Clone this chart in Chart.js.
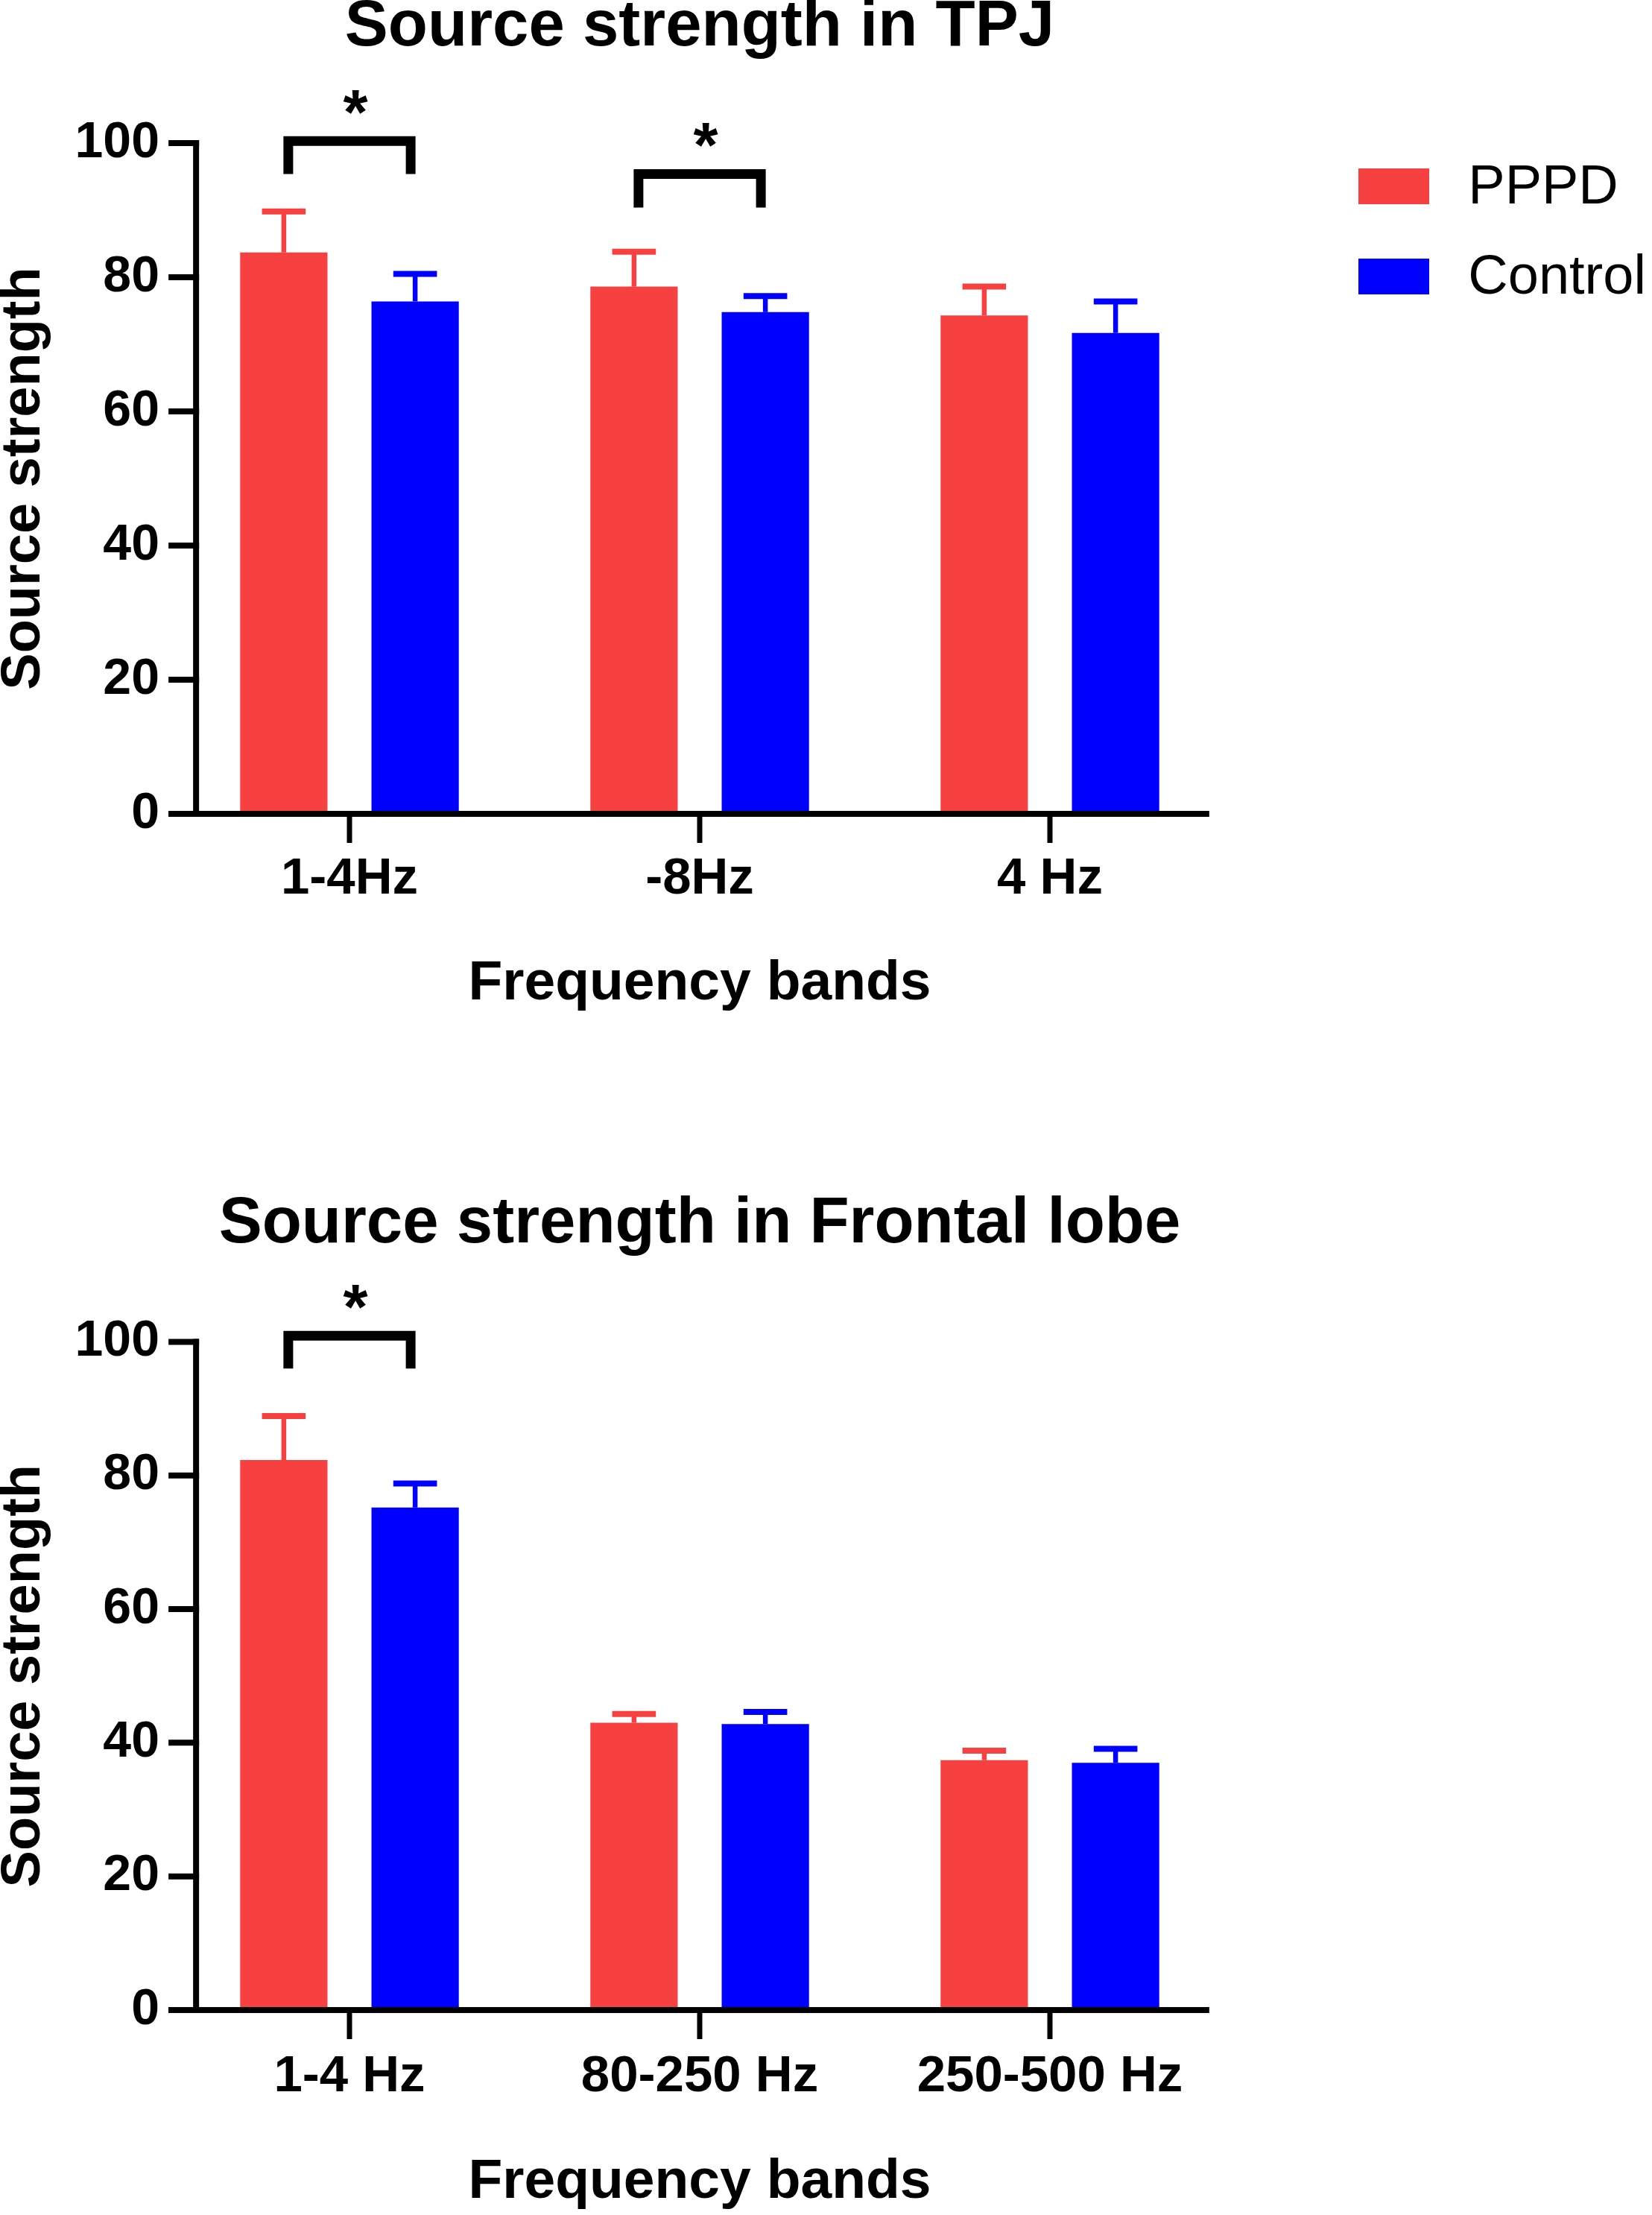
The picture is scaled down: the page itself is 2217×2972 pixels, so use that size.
<!DOCTYPE html>
<html>
<head>
<meta charset="utf-8">
<script src="https://cdn.jsdelivr.net/npm/chart.js@4.4.1/dist/chart.umd.min.js"></script>
<style>
  html, body { margin: 0; padding: 0; background: #ffffff; }
  #page { position: relative; width: 2217px; height: 2972px; overflow: hidden; background: #ffffff; }
  #page canvas { position: absolute; left: 0; }
  #c1 { top: 0; }
  #c2 { top: 1400px; }
</style>
</head>
<body>
<div id="page">
  <canvas id="c1" width="2217" height="1400" style="width:2217px;height:1400px"></canvas>
  <canvas id="c2" width="2217" height="1572" style="width:2217px;height:1572px"></canvas>
  <div id="legend"></div>
</div>
<script>
// ---------------- data ----------------
const seriesNames = ['PPPD', 'Control'];
const seriesColors = ['#F74141', '#0000FF'];
const yTickValues = [0, 20, 40, 60, 80, 100];

const tpjTitle = 'Source strength in TPJ';
const tpjCategories = ['1-4Hz', '-8Hz', '4 Hz'];
const tpjPPPD = [83.7, 78.6, 74.3];
const tpjPPPDErr = [6.1, 5.2, 4.3];
const tpjControl = [76.4, 74.8, 71.7];
const tpjControlErr = [4.1, 2.4, 4.7];
const tpjSigGroups = [0, 1];
const tpjSigTop = [100.3, 95.4];
const tpjSigLeg = [95.4, 90.4];

const frontalTitle = 'Source strength in Frontal lobe';
const frontalCategories = ['1-4 Hz', '80-250 Hz', '250-500 Hz'];
const frontalPPPD = [82.3, 43.0, 37.4];
const frontalPPPDErr = [6.6, 1.3, 1.4];
const frontalControl = [75.2, 42.8, 37.0];
const frontalControlErr = [3.6, 1.8, 2.1];
const frontalSigGroups = [0];
const frontalSigTop = [100.9];
const frontalSigLeg = [96.0];

const xTitleText = 'Frequency bands';
const yTitleText = 'Source strength';

// ---------------- style ----------------
const FONT = "'Liberation Sans', Arial, Helvetica, sans-serif";
const Y_AXIS_POS = -0.438;   // y-axis line position in category-index units
const X_AXIS_END = 2.455;    // right end of x-axis line in category-index units

function decorPlugin(errs, sigGroups, sigTop, sigLeg) {
  return {
    id: 'prismDecor',
    afterDatasetsDraw(chart) {
      const ctx = chart.ctx;
      const x = chart.scales.x, y = chart.scales.y;
      ctx.save();
      ctx.lineCap = 'butt';
      // error bars
      chart.data.datasets.forEach((ds, di) => {
        const meta = chart.getDatasetMeta(di);
        ctx.strokeStyle = ds.backgroundColor;
        meta.data.forEach((bar, i) => {
          const topY = y.getPixelForValue(ds.data[i] + errs[di][i]);
          ctx.lineWidth = 6.5;
          ctx.beginPath(); ctx.moveTo(bar.x, bar.y); ctx.lineTo(bar.x, topY); ctx.stroke();
          ctx.lineWidth = 8;
          const hw = bar.width / 4;
          ctx.beginPath(); ctx.moveTo(bar.x - hw, topY); ctx.lineTo(bar.x + hw, topY); ctx.stroke();
        });
      });
      // axes
      ctx.strokeStyle = '#000';
      const ax = x.getPixelForValue(Y_AXIS_POS);
      const y0 = y.getPixelForValue(0);
      const y100 = y.getPixelForValue(100);
      ctx.lineWidth = 8;
      ctx.beginPath(); ctx.moveTo(ax, y100 - 4); ctx.lineTo(ax, y0 + 4); ctx.stroke();
      y.ticks.forEach(t => {
        const py = y.getPixelForValue(t.value);
        ctx.beginPath(); ctx.moveTo(ax - 37, py); ctx.lineTo(ax + 4, py); ctx.stroke();
      });
      ctx.beginPath(); ctx.moveTo(ax - 37, y0); ctx.lineTo(x.getPixelForValue(X_AXIS_END), y0); ctx.stroke();
      ctx.lineWidth = 7;
      x.ticks.forEach((t, i) => {
        const px = x.getPixelForValue(i);
        ctx.beginPath(); ctx.moveTo(px, y0); ctx.lineTo(px, y0 + 39); ctx.stroke();
      });
      // significance brackets
      ctx.lineWidth = 13;
      ctx.lineJoin = 'miter';
      ctx.fillStyle = '#000';
      ctx.font = 'bold 85px ' + FONT;
      ctx.textAlign = 'center';
      ctx.textBaseline = 'alphabetic';
      sigGroups.forEach((g, k) => {
        const b0 = chart.getDatasetMeta(0).data[g];
        const b1 = chart.getDatasetMeta(1).data[g];
        const lx = b0.x + 6, rx = b1.x - 6;
        const ty = y.getPixelForValue(sigTop[k]);
        const ly = y.getPixelForValue(sigLeg[k]);
        ctx.beginPath();
        ctx.moveTo(lx, ly); ctx.lineTo(lx, ty); ctx.lineTo(rx, ty); ctx.lineTo(rx, ly);
        ctx.stroke();
        ctx.fillText('*', (lx + rx) / 2 + 8, ty - 9);
      });
      ctx.restore();
    }
  };
}

function makePanel(canvasId, p) {
  return new Chart(document.getElementById(canvasId), {
    type: 'bar',
    data: {
      labels: p.categories,
      datasets: [
        { label: seriesNames[0], data: p.pppd, backgroundColor: seriesColors[0], borderWidth: 0,
          categoryPercentage: 0.75, barPercentage: 0.665 },
        { label: seriesNames[1], data: p.control, backgroundColor: seriesColors[1], borderWidth: 0,
          categoryPercentage: 0.75, barPercentage: 0.665 }
      ]
    },
    options: {
      responsive: false,
      animation: false,
      devicePixelRatio: 1,
      layout: { padding: { left: 0, right: 573, top: 0, bottom: 0 } },
      plugins: {
        legend: { display: false },
        tooltip: { enabled: false },
        title: {
          display: true, text: p.title, fullSize: false, color: '#000',
          font: { family: FONT, size: 87, weight: 'bold', lineHeight: 0.8 },
          padding: { top: p.titlePadTop, bottom: p.titlePadBottom }
        }
      },
      scales: {
        x: {
          grid: { display: false, drawTicks: false },
          border: { display: false },
          ticks: { color: '#000', font: { family: FONT, size: 69, weight: 'bold' },
                   padding: p.xTickPad, maxRotation: 0, autoSkip: false },
          title: { display: true, text: xTitleText, color: '#000',
                   font: { family: FONT, size: 75, weight: 'bold', lineHeight: 1 },
                   padding: { top: 0, bottom: p.xTitlePadBottom } },
          afterFit: s => { s.height = p.xAxisHeight; }
        },
        y: {
          min: 0, max: 100,
          grid: { display: false, drawTicks: false },
          border: { display: false },
          afterBuildTicks: s => { s.ticks = yTickValues.map(v => ({ value: v })); },
          ticks: { color: '#000', font: { family: FONT, size: 68, weight: 'bold' }, padding: 20 },
          title: { display: true, text: yTitleText, color: '#000',
                   font: { family: FONT, size: 74, weight: 'bold', lineHeight: 1 },
                   padding: { top: -4.6, bottom: 0 } },
          afterFit: s => { s.width = 234; }
        }
      }
    },
    plugins: [decorPlugin(p.errs, p.sigGroups, p.sigTop, p.sigLeg)]
  });
}

const chartTop = makePanel('c1', {
  title: tpjTitle, categories: tpjCategories, pppd: tpjPPPD, control: tpjControl,
  errs: [tpjPPPDErr, tpjControlErr], sigGroups: tpjSigGroups, sigTop: tpjSigTop, sigLeg: tpjSigLeg,
  titlePadTop: 2, titlePadBottom: 120.4, xTickPad: 46.7, xTitlePadBottom: 42.5, xAxisHeight: 308
});

const chartBottom = makePanel('c2', {
  title: frontalTitle, categories: frontalCategories, pppd: frontalPPPD, control: frontalControl,
  errs: [frontalPPPDErr, frontalControlErr], sigGroups: frontalSigGroups, sigTop: frontalSigTop, sigLeg: frontalSigLeg,
  titlePadTop: 208.1, titlePadBottom: 122.7, xTickPad: 48.7, xTitlePadBottom: 6.5, xAxisHeight: 275
});

// ---------------- HTML legend (built from the chart's legend items) ----------------
(function buildLegend(chart) {
  let items;
  try {
    items = chart.options.plugins.legend.labels.generateLabels(chart);
  } catch (e) {
    items = chart.data.datasets.map(ds => ({ text: ds.label, fillStyle: ds.backgroundColor }));
  }
  const container = document.getElementById('legend');
  const boxTops = [226, 347];
  const baselines = [274, 395];
  items.forEach((item, i) => {
    const box = document.createElement('div');
    box.style.cssText = 'position:absolute;left:1823px;top:' + boxTops[i] + 'px;width:95px;height:48px;background:' + item.fillStyle + ';';
    container.appendChild(box);
    const txt = document.createElement('div');
    txt.textContent = item.text;
    txt.style.cssText = 'position:absolute;left:1970.3px;top:' + (baselines[i] - 62.64) + 'px;font-family:' + FONT +
      ';font-size:74px;line-height:74px;color:#000;white-space:nowrap;';
    container.appendChild(txt);
  });
})(chartTop);
</script>
</body>
</html>
